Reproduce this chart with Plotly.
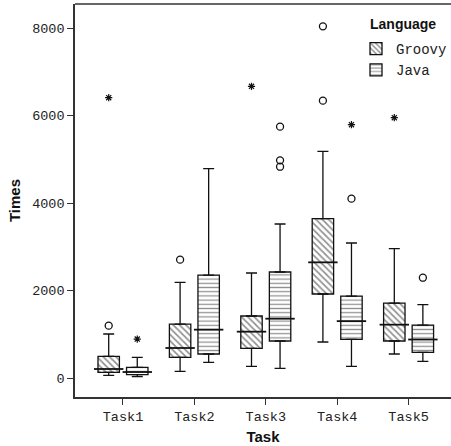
import plotly.graph_objects as go

tasks = ["Task1", "Task2", "Task3", "Task4", "Task5"]
task_idx = [0, 1, 2, 3, 4]

# Groovy box statistics
groovy_low = [61, 152, 267, 823, 549]
groovy_q1 = [130, 472, 678, 1920, 846]
groovy_med = [206, 686, 1059, 2644, 1219]
groovy_q3 = [495, 1234, 1417, 3642, 1714]
groovy_high = [1006, 2187, 2400, 5181, 2956]
groovy_circle_task = [0, 1, 3, 3]
groovy_circle_val = [1196, 2705, 8038, 6339]
groovy_star_task = [0, 2, 4]
groovy_star_val = [6408, 6667, 5950]

# Java box statistics
java_low = [30, 358, 221, 267, 381]
java_q1 = [76, 549, 846, 884, 587]
java_med = [137, 1105, 1356, 1300, 880]
java_q3 = [244, 2354, 2423, 1874, 1211]
java_high = [472, 4785, 3520, 3086, 1676]
java_circle_task = [2, 2, 2, 3, 4]
java_circle_val = [5745, 4975, 4830, 4099, 2293]
java_star_task = [0, 3]
java_star_val = [891, 5790]

OFFSET = 0.2
BOXW = 0.3
mono = "Liberation Mono"
sans = "Liberation Sans"

fig = go.Figure()

series = [
    ("Groovy", -OFFSET, "\\", groovy_low, groovy_q1, groovy_med, groovy_q3, groovy_high,
     groovy_circle_task, groovy_circle_val, groovy_star_task, groovy_star_val, 4.5, 0.38),
    ("Java", OFFSET, "-", java_low, java_q1, java_med, java_q3, java_high,
     java_circle_task, java_circle_val, java_star_task, java_star_val, 4.2, 0.3),
]

for (name, off, shape, low, q1, med, q3, high, ct, cv, st, sv, psize, psol) in series:
    xs = [i + off for i in task_idx]
    # whiskers (upper and lower) via error bars with caps
    fig.add_trace(go.Scatter(
        x=xs, y=q3, mode="markers", marker=dict(size=1, color="rgba(0,0,0,0)"),
        error_y=dict(type="data", symmetric=False,
                     array=[h - q for h, q in zip(high, q3)],
                     arrayminus=[0] * len(q3), width=5.5, thickness=1.3, color="#111"),
        showlegend=False, hoverinfo="skip"))
    fig.add_trace(go.Scatter(
        x=xs, y=q1, mode="markers", marker=dict(size=1, color="rgba(0,0,0,0)"),
        error_y=dict(type="data", symmetric=False,
                     array=[0] * len(q1),
                     arrayminus=[q - l for q, l in zip(q1, low)], width=5.5, thickness=1.3, color="#111"),
        showlegend=False, hoverinfo="skip"))
    # boxes
    fig.add_trace(go.Bar(
        x=xs, base=q1, y=[b - a for a, b in zip(q1, q3)], width=BOXW, name=name,
        marker=dict(color="white",
                    line=dict(color="#111", width=1.3),
                    pattern=dict(shape=shape, fgcolor="#222", bgcolor="white",
                                 size=psize, solidity=psol, fillmode="overlay")),
        showlegend=True))
    # medians
    fig.add_trace(go.Scatter(
        x=xs, y=med, mode="markers",
        marker=dict(symbol="line-ew", size=21, line=dict(color="#111", width=1.8)),
        showlegend=False, hoverinfo="skip"))
    # outliers
    fig.add_trace(go.Scatter(
        x=[i + off for i in ct], y=cv, mode="markers",
        marker=dict(symbol="circle-open", size=7, color="#111", line=dict(width=1.3)),
        showlegend=False, hoverinfo="skip"))
    fig.add_trace(go.Scatter(
        x=[i + off for i in st], y=sv, mode="markers",
        marker=dict(symbol="asterisk-open", size=6, color="#111", line=dict(width=1.2, color="#111")),
        showlegend=False, hoverinfo="skip"))

fig.add_annotation(
    text="<b>Language</b>", xref="paper", yref="paper", x=(368 - 75) / 376, y=(397 - 24) / 393,
    xanchor="left", yanchor="middle", showarrow=False,
    font=dict(family=sans, size=14, color="#111"))

# top frame line
fig.add_shape(type="line", xref="paper", yref="paper", x0=0, x1=1, y0=1, y1=1,
              line=dict(color="#333", width=1.5))

fig.update_layout(
    width=451, height=446,
    margin=dict(l=75, r=0, t=4, b=49, autoexpand=False),
    paper_bgcolor="white", plot_bgcolor="white",
    barmode="overlay",
    showlegend=True,
    legend=dict(
        font=dict(family=mono, size=14, color="#222"),
        x=(356 - 75) / 376, y=(397 - 33) / 393, xanchor="left", yanchor="top",
        bgcolor="rgba(0,0,0,0)", itemwidth=30, tracegroupgap=0,
    ),
    xaxis=dict(
        range=[-0.672, 4.594], tickmode="array", tickvals=task_idx, ticktext=tasks,
        showgrid=False, zeroline=False, showline=True, linecolor="#333", linewidth=1.5,
        ticks="outside", ticklen=6, tickwidth=1.3, tickcolor="#333",
        tickfont=dict(family=mono, size=13.5, color="#222"), automargin=False,
        title=dict(text="Task", font=dict(family=sans, size=15, color="#111", weight="bold"), standoff=8),
    ),
    yaxis=dict(
        range=[-434, 8549], tickmode="array", tickvals=[0, 2000, 4000, 6000, 8000],
        showgrid=False, zeroline=False, showline=True, linecolor="#333", linewidth=1.5,
        ticks="outside", ticklen=6, tickwidth=1.3, tickcolor="#333",
        tickfont=dict(family=mono, size=13.5, color="#222"), automargin=False,
        title=dict(text="Times", font=dict(family=sans, size=15, color="#111", weight="bold"), standoff=8),
    ),
)

fig.write_html(
    "out.html",
    config={"displayModeBar": False},
    post_script="document.body.style.margin='0';document.body.style.overflow='hidden';",
)
